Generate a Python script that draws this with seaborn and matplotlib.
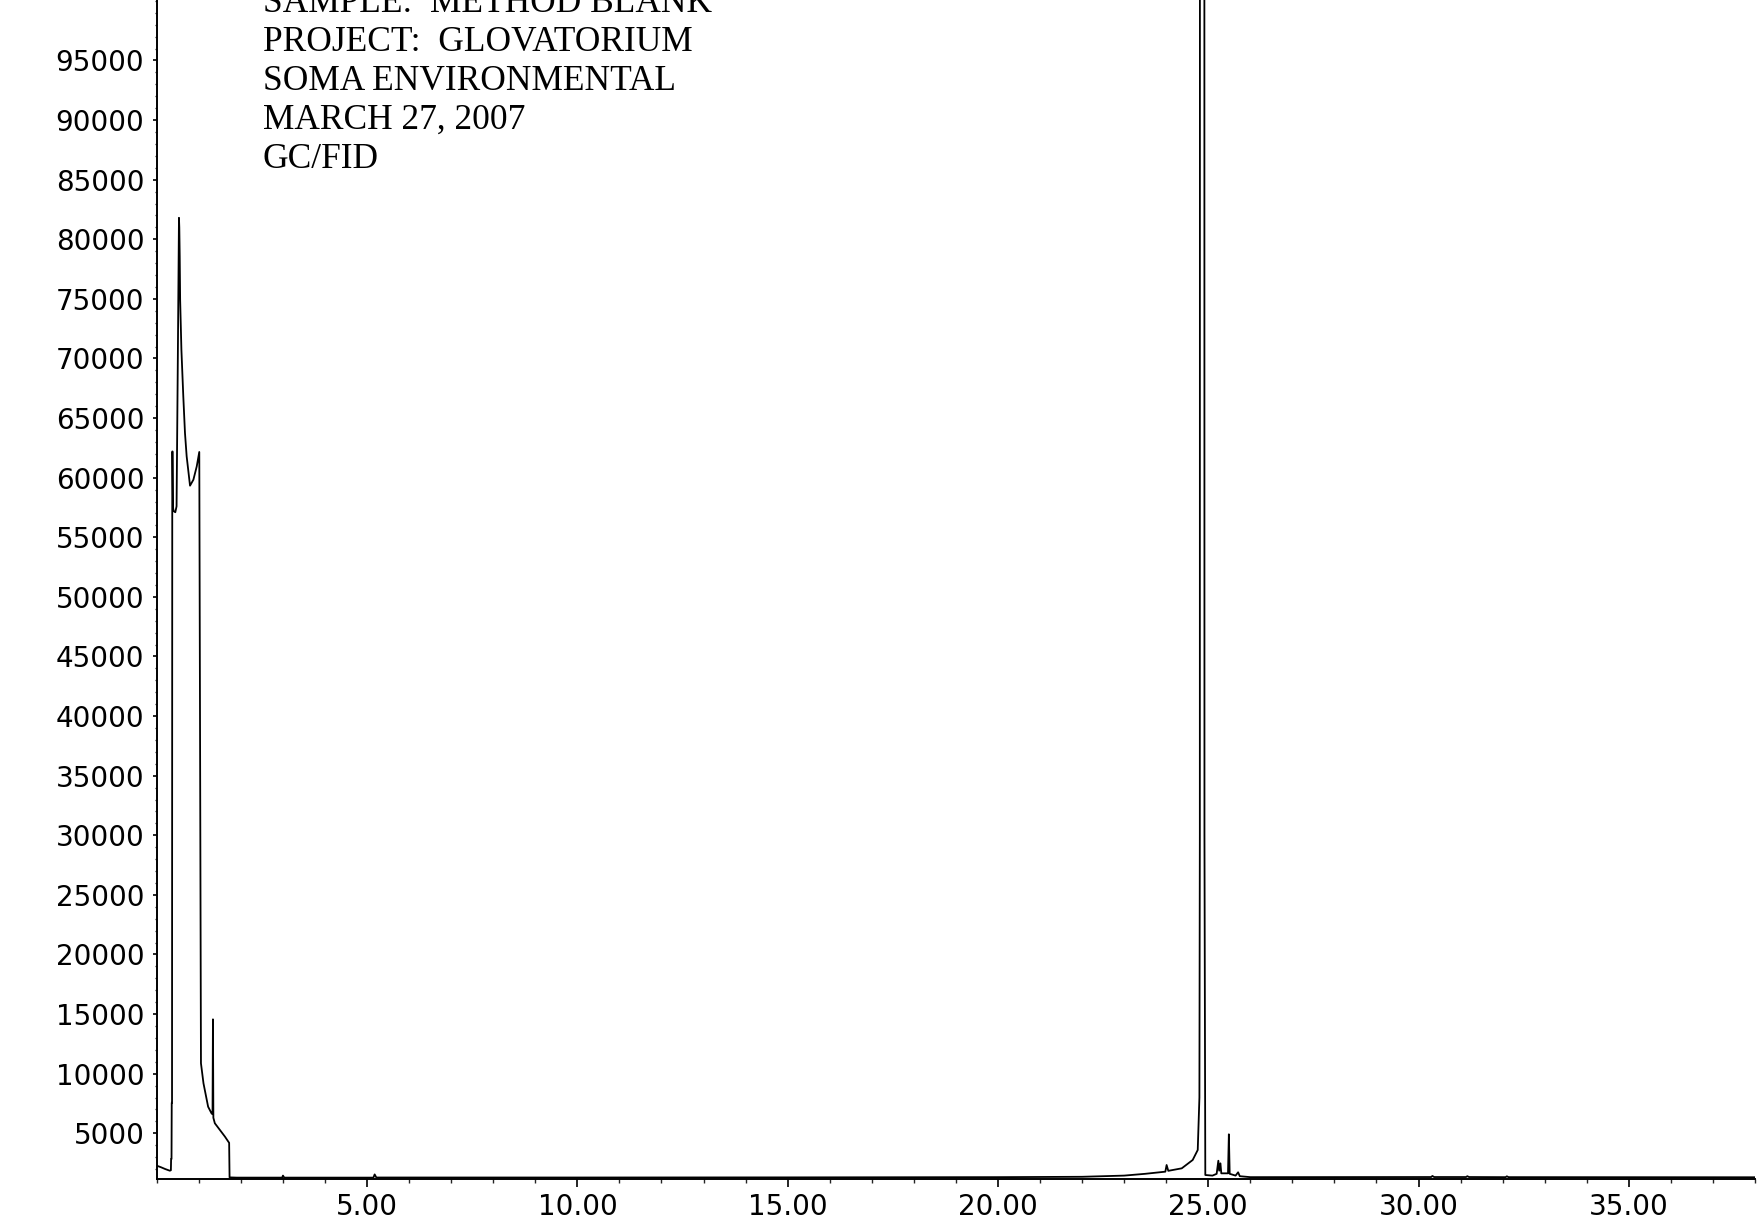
import matplotlib
matplotlib.use("Agg")
import matplotlib.pyplot as plt
from matplotlib.ticker import MultipleLocator, FormatStrFormatter
import seaborn as sns
import pandas as pd

# Retention time (min) and detector response of the GC/FID trace
time_min = [
    0.00, 0.10, 0.20, 0.31, 0.335, 0.340, 0.350, 0.355, 0.362, 0.368, 0.375,
    0.385, 0.400, 0.440, 0.470, 0.500, 0.527, 0.535, 0.545, 0.555, 0.585,
    0.630, 0.670, 0.710, 0.790, 0.870, 0.950, 1.010, 1.050, 1.110, 1.220,
    1.300, 1.325, 1.335, 1.345, 1.380, 1.500, 1.620, 1.700, 1.720, 1.730,
    1.900, 2.980, 3.000, 3.030, 5.150, 5.180, 5.220, 10.00, 15.00, 20.00,
    22.00, 23.00, 23.50, 23.98, 24.01, 24.05, 24.37, 24.63, 24.75, 24.79,
    24.80, 24.81, 24.90, 24.91, 24.93, 25.10, 25.20, 25.24, 25.26, 25.29,
    25.31, 25.47, 25.49, 25.51, 25.65, 25.71, 25.75, 26.00, 30.30, 30.33,
    30.37, 31.13, 31.16, 31.20, 32.07, 32.10, 32.14, 38.00,
]
response = [
    2280, 2150, 2000, 1860, 1900, 2840, 2840, 7560, 7560, 62200, 62200,
    57500, 57200, 57100, 57600, 70000, 81800, 81000, 78560, 74930, 70740,
    66820, 63750, 61790, 59330, 59830, 60950, 62160, 10870, 9190, 7230,
    6680, 6600, 14560, 6300, 5840, 5280, 4720, 4300, 4200, 1300,
    1280, 1280, 1450, 1280, 1280, 1550, 1290, 1290, 1300, 1320,
    1350, 1450, 1600, 1780, 2340, 1850, 2060, 2760, 3600, 8000,
    30000, 400000, 400000, 30000, 1500, 1450, 1600, 2700, 1860, 2480,
    1640, 1640, 4915, 1600, 1450, 1727, 1400, 1320, 1330, 1420,
    1330, 1330, 1400, 1330, 1320, 1390, 1320, 1310,
]

y_ticks = list(range(5000, 100000, 5000))
x_ticks = [5.0, 10.0, 15.0, 20.0, 25.0, 30.0, 35.0]

header_lines = [
    "SAMPLE:  METHOD BLANK",
    "PROJECT:  GLOVATORIUM",
    "SOMA ENVIRONMENTAL",
    "MARCH 27, 2007",
    "GC/FID",
]

sns.set_theme(style="ticks")
plt.rcParams["font.family"] = ["DejaVu Sans"]

W, H = 1765, 1222
fig = plt.figure(figsize=(W / 100, H / 100), dpi=100, facecolor="white")
ax = fig.add_axes([156.8 / W, (H - 1178.7) / H, (1755 - 156.8) / W, 1178.7 / H])
ax.set_facecolor("white")

trace = pd.DataFrame({"time": time_min, "response": response})
sns.lineplot(data=trace, x="time", y="response", estimator=None, sort=False,
             color="black", linewidth=1.3, ax=ax)

ax.set_xlim(0.0, 38.0)
ax.set_ylim(1190, 100075)
ax.set_xlabel("")
ax.set_ylabel("")

ax.xaxis.set_major_locator(plt.FixedLocator(x_ticks))
ax.xaxis.set_minor_locator(MultipleLocator(1.0))
ax.xaxis.set_major_formatter(FormatStrFormatter("%.2f"))
ax.yaxis.set_major_locator(plt.FixedLocator(y_ticks))
ax.yaxis.set_minor_locator(MultipleLocator(1000))
ax.yaxis.set_major_formatter(FormatStrFormatter("%d"))

for side in ("top", "right"):
    ax.spines[side].set_visible(False)
for side in ("left", "bottom"):
    ax.spines[side].set_linewidth(1.4)
    ax.spines[side].set_color("black")

ax.tick_params(axis="x", which="major", length=6, width=1.2, pad=4,
               labelsize=20, colors="black")
ax.tick_params(axis="x", which="minor", length=3, width=1.0)
ax.tick_params(axis="y", which="major", length=3, width=1.2, pad=6,
               labelsize=20, colors="black")
ax.tick_params(axis="y", which="minor", length=1.5, width=0.9)

# Header block printed by the instrument software
baselines = [12, 51, 90, 129, 168]
for text, yb in zip(header_lines, baselines):
    fig.text(263 / W, 1 - yb / H, text, family=["Liberation Serif"],
             fontsize=25.5, color="black", ha="left", va="baseline")

fig.savefig("out.png", dpi=100, facecolor="white")
